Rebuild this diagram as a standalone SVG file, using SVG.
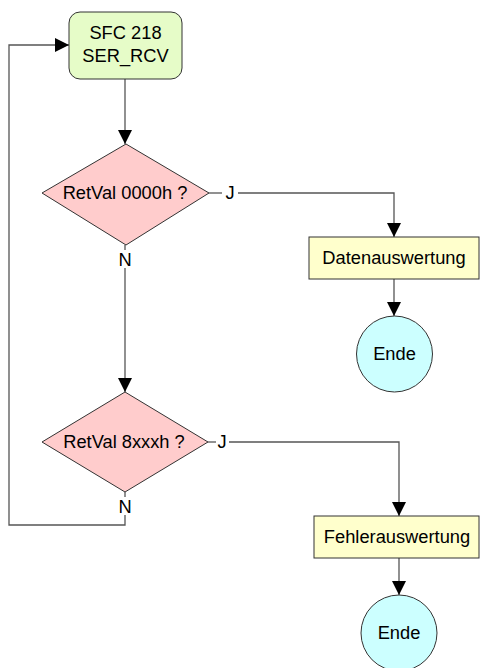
<svg xmlns="http://www.w3.org/2000/svg" width="480" height="668" viewBox="0 0 480 668">
<style>
text{font-family:"Liberation Sans",Arial,sans-serif;font-size:18.3px;fill:#000;text-anchor:middle}
.shape{stroke:#333;stroke-width:1}
.c{fill:none;stroke:#555;stroke-width:1.3}
</style>
<defs>
<marker id="ah" viewBox="0 0 14 14" refX="14" refY="7" markerWidth="14" markerHeight="14" markerUnits="userSpaceOnUse" orient="auto">
<path d="M0,0 L14,7 L0,14 Z" fill="#000"/>
</marker>
</defs>
<rect width="480" height="668" fill="#fff"/>
<g id="connectors">
<path class="c" d="M125,79 V144" marker-end="url(#ah)"/>
<path class="c" d="M209,193 H222"/>
<path class="c" d="M238,193 H394 V237" marker-end="url(#ah)"/>
<path class="c" d="M394,279 V316" marker-end="url(#ah)"/>
<path class="c" d="M125,245 V250"/>
<path class="c" d="M125,268 V392" marker-end="url(#ah)"/>
<path class="c" d="M208,442 H216"/>
<path class="c" d="M229,442 H399 V516" marker-end="url(#ah)"/>
<path class="c" d="M399,558 V595" marker-end="url(#ah)"/>
<path class="c" d="M125,492 V497"/>
<path class="c" d="M125,515 V525 H9 V45 H69" marker-end="url(#ah)"/>
<text x="230" y="199">J</text>
<text x="125" y="266">N</text>
<text x="222" y="448">J</text>
<text x="125" y="513">N</text>
</g>
<g id="sfc">
<rect class="shape" x="69" y="12" width="113" height="67" rx="11" fill="#e6fcc8"/>
<text x="125.5" y="39">SFC 218</text>
<text x="125.5" y="62">SER_RCV</text>
</g>
<g id="dec1">
<polygon class="shape" points="126,144 209,193 126,245 42,193" fill="#ffcccc"/>
<text x="125" y="199">RetVal 0000h ?</text>
</g>
<g id="daten">
<rect class="shape" x="309" y="237" width="170" height="42" fill="#ffffcc"/>
<text x="394" y="264">Datenauswertung</text>
</g>
<g id="ende1">
<circle class="shape" cx="394.5" cy="354" r="38" fill="#ccffff"/>
<text x="394.5" y="360">Ende</text>
</g>
<g id="dec2">
<polygon class="shape" points="125,392 208,442 125,492 42,442" fill="#ffcccc"/>
<text x="124" y="448">RetVal 8xxxh ?</text>
</g>
<g id="fehler">
<rect class="shape" x="314" y="516" width="165" height="42" fill="#ffffcc"/>
<text x="397" y="543">Fehlerauswertung</text>
</g>
<g id="ende2">
<circle class="shape" cx="399" cy="633" r="38" fill="#ccffff"/>
<text x="399" y="639">Ende</text>
</g>
</svg>
